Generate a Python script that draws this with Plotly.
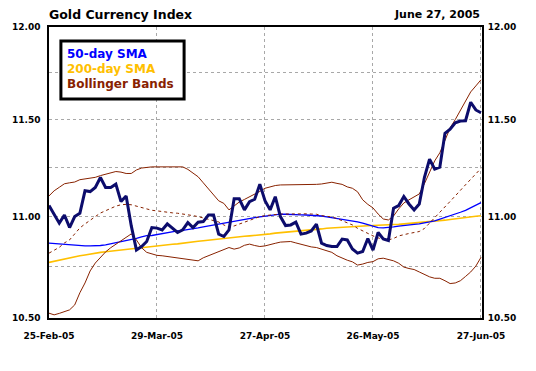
import math
import plotly.graph_objects as go

# ---- data (index = trading day from 25-Feb-05 to 27-Jun-05) ----
price = [11.056, 11.013, 10.967, 11.008, 10.945, 11.000, 11.017, 11.131, 11.127, 11.148,
         11.199, 11.148, 11.148, 11.165, 11.076, 11.105, 10.953, 10.833, 10.850, 10.875,
         10.945, 10.942, 10.933, 10.963, 10.942, 10.920, 10.933, 10.970, 10.945, 10.972,
         10.975, 11.008, 11.008, 10.912, 10.900, 10.933, 11.090, 11.090, 11.034, 11.076,
         11.088, 11.165, 11.081, 11.034, 11.101, 11.000, 10.955, 10.958, 10.972, 10.912,
         10.917, 10.928, 10.962, 10.867, 10.855, 10.850, 10.850, 10.887, 10.883, 10.838,
         10.817, 10.825, 10.890, 10.832, 10.920, 10.888, 10.880, 11.042, 11.056, 11.102,
         11.064, 11.034, 11.064, 11.199, 11.294, 11.242, 11.252, 11.429, 11.450, 11.484,
         11.493, 11.495, 11.593, 11.552, 11.537]

sma50 = [10.867, 10.865, 10.863, 10.860, 10.858, 10.855, 10.855, 10.853, 10.853, 10.853,
         10.855, 10.858, 10.863, 10.868, 10.873, 10.879, 10.885, 10.891, 10.898, 10.904,
         10.905, 10.910, 10.915, 10.920, 10.924, 10.928, 10.931, 10.934, 10.939, 10.943,
         10.948, 10.953, 10.957, 10.961, 10.966, 10.971, 10.976, 10.981, 10.986, 10.990,
         10.995, 10.999, 11.003, 11.007, 11.010, 11.012, 11.012, 11.012, 11.011, 11.009,
         11.008, 11.007, 11.005, 11.003, 10.999, 10.995, 10.991, 10.987, 10.983, 10.978,
         10.973, 10.967, 10.960, 10.953, 10.945, 10.943, 10.944, 10.948, 10.952, 10.956,
         10.958, 10.961, 10.963, 10.967, 10.973, 10.979, 10.987, 10.996, 11.005, 11.013,
         11.022, 11.032, 11.044, 11.057, 11.071]

sma200 = [10.771, 10.777, 10.782, 10.787, 10.793, 10.799, 10.804, 10.808, 10.813, 10.817,
          10.821, 10.824, 10.827, 10.831, 10.834, 10.836, 10.838, 10.841, 10.843, 10.846,
          10.849, 10.852, 10.855, 10.858, 10.861, 10.863, 10.867, 10.871, 10.873, 10.876,
          10.879, 10.882, 10.886, 10.888, 10.891, 10.894, 10.897, 10.899, 10.901, 10.903,
          10.905, 10.907, 10.909, 10.913, 10.917, 10.919, 10.921, 10.924, 10.926, 10.928,
          10.931, 10.933, 10.936, 10.938, 10.941, 10.943, 10.945, 10.947, 10.948, 10.950,
          10.951, 10.953, 10.954, 10.955, 10.957, 10.958, 10.959, 10.960, 10.961, 10.963,
          10.965, 10.968, 10.971, 10.974, 10.976, 10.977, 10.979, 10.982, 10.985, 10.989,
          10.992, 10.996, 10.999, 11.002, 11.004]

bb_upper = [11.105, 11.131, 11.149, 11.167, 11.172, 11.176, 11.188, 11.193, 11.196, 11.200,
            11.209, 11.216, 11.223, 11.230, 11.227, 11.220, 11.220, 11.238, 11.248, 11.252,
            11.254, 11.254, 11.254, 11.254, 11.254, 11.254, 11.254, 11.241, 11.220, 11.203,
            11.172, 11.141, 11.105, 11.080, 11.067, 11.034, 11.054, 11.074, 11.087, 11.100,
            11.113, 11.128, 11.144, 11.151, 11.158, 11.161, 11.161, 11.161, 11.161, 11.162,
            11.162, 11.163, 11.164, 11.166, 11.170, 11.175, 11.169, 11.164, 11.151, 11.144,
            11.126, 11.085, 11.062, 11.044, 11.013, 10.988, 10.983, 11.003, 11.039, 11.069,
            11.085, 11.098, 11.115, 11.167, 11.228, 11.285, 11.327, 11.395, 11.457, 11.501,
            11.552, 11.603, 11.648, 11.680, 11.713]

bb_mid = [10.817, 10.833, 10.846, 10.868, 10.883, 10.913, 10.943, 10.963, 10.983, 11.000,
          11.018, 11.031, 11.044, 11.053, 11.060, 11.062, 11.060, 11.053, 11.044, 11.039,
          11.032, 11.029, 11.025, 11.022, 11.019, 11.017, 11.014, 11.011, 11.005, 11.000,
          10.993, 10.988, 10.983, 10.973, 10.958, 10.946, 10.953, 10.963, 10.973, 10.980,
          10.990, 11.000, 11.005, 11.008, 11.010, 11.013, 11.013, 11.014, 11.015, 11.015,
          11.014, 11.013, 11.012, 11.005, 11.003, 10.998, 10.990, 10.980, 10.970, 10.958,
          10.941, 10.928, 10.913, 10.903, 10.893, 10.885, 10.883, 10.890, 10.903, 10.910,
          10.915, 10.920, 10.925, 10.940, 10.968, 10.998, 11.023, 11.050, 11.077, 11.105,
          11.136, 11.162, 11.190, 11.216, 11.246]

bb_lower = [10.523, 10.515, 10.522, 10.529, 10.539, 10.563, 10.622, 10.670, 10.729, 10.768,
            10.796, 10.823, 10.844, 10.861, 10.878, 10.898, 10.913, 10.883, 10.844, 10.821,
            10.812, 10.806, 10.804, 10.800, 10.797, 10.794, 10.789, 10.784, 10.781, 10.779,
            10.794, 10.804, 10.812, 10.823, 10.836, 10.845, 10.837, 10.843, 10.856, 10.862,
            10.855, 10.850, 10.853, 10.858, 10.866, 10.872, 10.873, 10.875, 10.868, 10.861,
            10.853, 10.848, 10.845, 10.838, 10.831, 10.821, 10.804, 10.791, 10.782, 10.774,
            10.758, 10.763, 10.771, 10.775, 10.789, 10.792, 10.787, 10.779, 10.767, 10.748,
            10.741, 10.736, 10.724, 10.710, 10.700, 10.693, 10.693, 10.681, 10.667, 10.670,
            10.681, 10.702, 10.724, 10.753, 10.796]

x_labels = ["25-Feb-05", "29-Mar-05", "27-Apr-05", "26-May-05", "27-Jun-05"]
x_label_index = [0, 21, 42, 63, 84]
y_grid = [10.50, 10.75, 11.00, 11.25, 11.50, 11.75, 12.00]
y_labels = ["10.50", "", "11.00", "", "11.50", "", "12.00"]
y_right = [10.50, 11.00, 11.50, 12.00]
legend_names = ["50-day SMA", "200-day SMA", "Bollinger Bands"]

days = list(range(len(price)))

# ---- styles ----
NAVY = "#0c0c6c"
BLUE = "#0000ff"
GOLD = "#ffc000"
BROWN = "#882200"
FONT = "DejaVu Sans"

fig = go.Figure()
fig.add_trace(go.Scatter(x=days, y=sma200, mode="lines", line=dict(color=GOLD, width=1.6)))
fig.add_trace(go.Scatter(x=days, y=sma50, mode="lines", line=dict(color=BLUE, width=1.3)))
fig.add_trace(go.Scatter(x=days, y=bb_upper, mode="lines", line=dict(color=BROWN, width=1)))
fig.add_trace(go.Scatter(x=days, y=bb_lower, mode="lines", line=dict(color=BROWN, width=1)))
fig.add_trace(go.Scatter(x=days, y=bb_mid, mode="lines",
                         line=dict(color=BROWN, width=1, dash="3px,3px")))
fig.add_trace(go.Scatter(x=days, y=price, mode="lines", line=dict(color=NAVY, width=3)))
# invisible trace to anchor the right-hand axis
fig.add_trace(go.Scatter(x=days, y=price, mode="lines", yaxis="y2",
                         line=dict(color="rgba(0,0,0,0)", width=0), hoverinfo="skip"))

yr = [math.log10(10.5) - 1e-5, math.log10(12.0) + 1e-5]
tickfont = dict(family=FONT, size=9, color="black", weight="bold")

fig.update_layout(
    width=536, height=371,
    margin=dict(l=46, r=54, t=27, b=53),
    paper_bgcolor="white", plot_bgcolor="white",
    showlegend=False,
    xaxis=dict(range=[0, 84.2], tickvals=x_label_index, ticktext=x_labels,
               showgrid=True, gridcolor="#a8a8a8", griddash="3px,3px", gridwidth=1,
               showline=True, linecolor="black", linewidth=1.5, mirror=True,
               ticks="outside", ticklen=8, tickcolor="rgba(0,0,0,0)",
               tickfont=tickfont, zeroline=False),
    yaxis=dict(type="log", range=yr, tickvals=y_grid, ticktext=y_labels,
               showgrid=True, gridcolor="#a8a8a8", griddash="3px,3px", gridwidth=1,
               showline=True, linecolor="black", linewidth=1.5, mirror=True,
               ticks="outside", ticklen=5, tickcolor="rgba(0,0,0,0)",
               tickfont=tickfont, zeroline=False),
    yaxis2=dict(type="log", range=yr, tickvals=y_right,
                ticktext=[f"{v:.2f}" for v in y_right],
                overlaying="y", side="right", showgrid=False, zeroline=False,
                ticks="outside", ticklen=3, tickcolor="rgba(0,0,0,0)",
                tickfont=tickfont),
)

# title texts
fig.add_annotation(text="<b>Gold Currency Index</b>", xref="paper", yref="paper",
                   x=-0.004, y=1.042, xanchor="left", yanchor="middle", showarrow=False,
                   font=dict(family=FONT, size=12.5, color="black"))
fig.add_annotation(text="<b>June 27, 2005</b>", xref="paper", yref="paper",
                   x=0.999, y=1.042, xanchor="right", yanchor="middle", showarrow=False,
                   font=dict(family=FONT, size=11, color="black"))

# legend box
fig.add_shape(type="rect", xref="paper", yref="paper",
              x0=0.0275, x1=0.312, y0=0.7526, y1=0.9519,
              line=dict(color="black", width=3), fillcolor="white", layer="above")
for name, col, yy in zip(legend_names, [BLUE, GOLD, BROWN], [0.9072, 0.8557, 0.8041]):
    fig.add_annotation(text=f"<b>{name}</b>", xref="paper", yref="paper",
                       x=0.036, y=yy, xanchor="left", yanchor="middle", showarrow=False,
                       font=dict(family=FONT, size=12, color=col))

fig.write_html("out.html", config={"displayModeBar": False},
               post_script="document.body.style.margin='0';")
